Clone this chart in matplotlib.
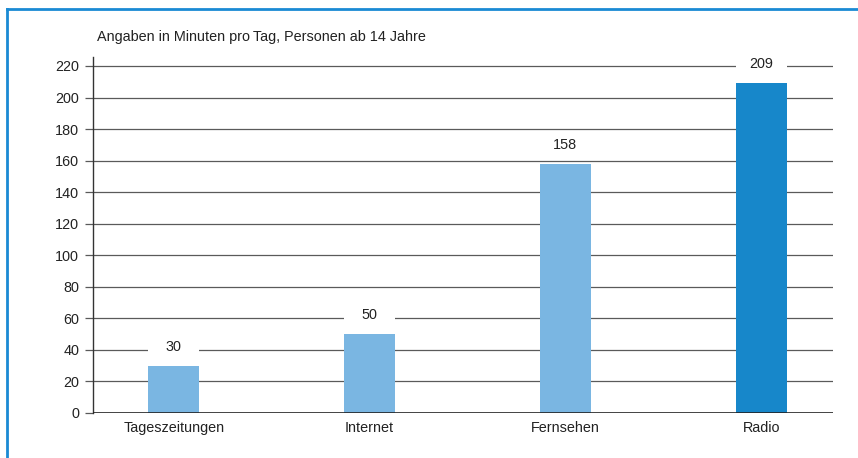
import matplotlib.pyplot as plt
import numpy as np
from matplotlib.patches import Rectangle
from matplotlib.lines import Line2D

plt.rcParams['font.family'] = ['Liberation Sans', 'DejaVu Sans']

categories = ["Tageszeitungen", "Internet", "Fernsehen", "Radio"]
values = [30, 50, 158, 209]
bar_colors = ["#7ab6e2", "#7ab6e2", "#7ab6e2", "#1787ca"]
yticks = list(range(0, 221, 20))
title = "Angaben in Minuten pro\u2009Tag, Personen ab 14 Jahre"

fs = 10.4
fig = plt.figure(figsize=(8.58, 4.58), dpi=100)
ax = fig.add_axes([93/858, 1-413/458, (833-93)/858, (413-57)/458])

x = np.arange(len(categories))
w = 0.26
ax.set_xlim(-0.413, 3.367)
ax.set_ylim(0, 225.7)

for yv in yticks[1:]:
    ax.axhline(yv, color="#5a5a5a", lw=0.9, zorder=1)
ax.axhline(0, color="#222222", lw=1.2, zorder=4)

ax.bar(x, values, width=w, color=bar_colors, zorder=3)

off = 12.0
for xi, v in zip(x, values):
    ax.add_patch(Rectangle((xi - w/2, v + off - 4.5), w, 9, facecolor="white",
                           edgecolor="none", zorder=2))
    ax.text(xi, v + off, str(v), ha="center", va="center", fontsize=fs,
            color="#222222", zorder=5)

ax.set_yticks(yticks)
ax.set_xticks(x)
ax.set_xticklabels(categories)
ax.tick_params(axis="y", length=6, width=0.9, color="#5a5a5a", pad=4,
               labelsize=fs, labelcolor="#222222")
ax.tick_params(axis="x", length=0, pad=6, labelsize=fs, labelcolor="#222222")

for s in ["top", "right", "bottom"]:
    ax.spines[s].set_visible(False)
ax.spines["left"].set_color("#333333")
ax.spines["left"].set_linewidth(1.0)

fig.text(97/858, 1-37/458, title, ha="left", va="center", fontsize=fs,
         color="#222222")

# blue frame (top and left)
fig.add_artist(Line2D([7/858, 1], [1-8.5/458, 1-8.5/458], color="#1a8ad4",
                      lw=2, transform=fig.transFigure))
fig.add_artist(Line2D([7/858, 7/858], [0, 1-8.5/458], color="#1a8ad4",
                      lw=2, transform=fig.transFigure))

fig.savefig("out.png", dpi=100)
